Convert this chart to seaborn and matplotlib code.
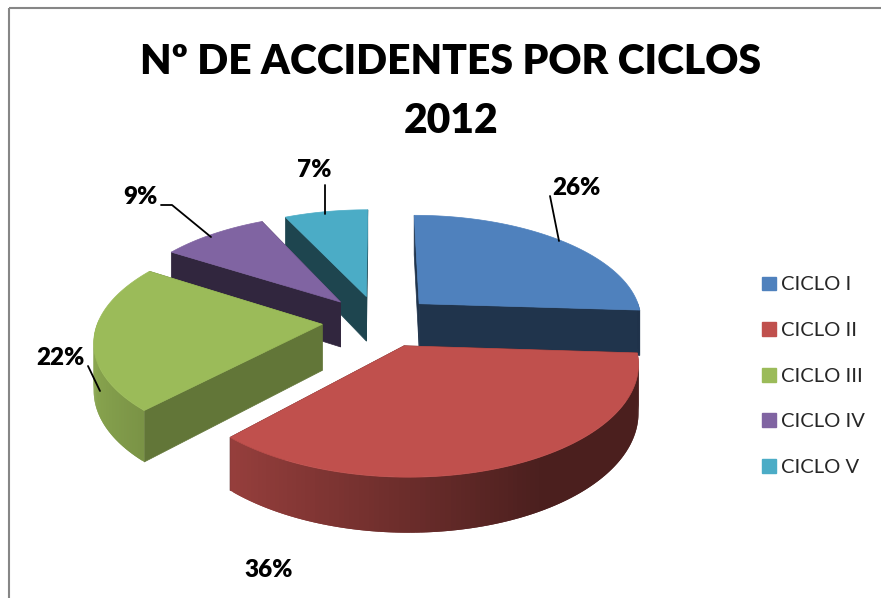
import numpy as np
import seaborn as sns
import matplotlib.pyplot as plt
from matplotlib.patches import Patch, Polygon, Rectangle

# Accidents per cycle, 2012
ciclos = ['CICLO I', 'CICLO II', 'CICLO III', 'CICLO IV', 'CICLO V']
porcentajes = [26, 36, 22, 9, 7]
colores = ['#4F81BD', '#C0504D', '#9BBB59', '#8064A2', '#4BACC6']
titulo = 'Nº DE ACCIDENTES POR CICLOS\n2012'

sns.set_theme(style='white')
plt.rcParams['font.family'] = ['Lato', 'DejaVu Sans']
paleta = sns.color_palette(colores)

# look of the 3D pie, in pixels of the picture
cx, cy = 378, 321
radio = 224
inclina = 0.47
persp = 0.14
alto = 46
explota = 55
lados = [0.40, 0.40, 0.63, 0.38, 0.40]
ajuste_x = [2, 5, -1, -2, 0]


def proyecta(u, v, z=0):
    s = 1 / (1 - persp * v / radio)
    return cx + u * s, cy + inclina * v * s + z * s


def oscurece(color, f):
    return tuple(c * f for c in color)


fig = plt.figure(figsize=(8.81, 5.98), dpi=100)
ax = fig.add_axes([0, 0, 1, 1])
ax.set_xlim(0, 881)
ax.set_ylim(598, 0)
ax.axis('off')
# chart frame, cut by the right and bottom edges of the picture
ax.add_patch(Rectangle((8.5, 7.5), 900, 620, fill=False, ec='#868686', lw=1.5))

cortes = np.cumsum([0] + porcentajes) / sum(porcentajes) * 2 * np.pi

# painted from the back of the pie to the front
for i in [4, 3, 0, 2, 1]:
    a0, a1 = cortes[i], cortes[i + 1]
    medio = (a0 + a1) / 2
    u0, v0 = explota * np.sin(medio) + ajuste_x[i], -explota * np.cos(medio)
    th = np.linspace(a0, a1, 120)
    us = u0 + radio * np.sin(th)
    vs = v0 - radio * np.cos(th)
    color = paleta[i]
    plano = oscurece(color, lados[i])

    # straight cut walls
    for a in (a0, a1):
        ue, ve = u0 + radio * np.sin(a), v0 - radio * np.cos(a)
        pts = [proyecta(u0, v0), proyecta(ue, ve), proyecta(ue, ve, alto), proyecta(u0, v0, alto)]
        ax.add_patch(Polygon(pts, fc=plano, ec=plano, lw=0.5, zorder=2))

    # curved wall, shaded along the arc; each piece overlaps the next to hide seams
    for j in range(len(th) - 2):
        if np.cos(th[j]) > 0.02:
            continue
        f = np.clip(0.56 - 0.33 * np.sin(th[j]), 0.39, 0.9)
        tono = oscurece(color, f)
        pts = [proyecta(us[j], vs[j]), proyecta(us[j + 2], vs[j + 2]),
               proyecta(us[j + 2], vs[j + 2], alto), proyecta(us[j], vs[j], alto)]
        ax.add_patch(Polygon(pts, fc=tono, ec='none', zorder=2))

    # top face
    xs, ys = proyecta(us, vs)
    xt, yt = proyecta(u0, v0)
    ax.add_patch(Polygon(np.column_stack([np.r_[xt, xs], np.r_[yt, ys]]), fc=color, ec=color, lw=0.5, zorder=2))

# percentage labels with their leader lines
etiquetas = {0: (576, 188), 1: (269, 570), 2: (60, 358), 3: (140, 197), 4: (314, 170)}
for i, (x, y) in etiquetas.items():
    ax.text(x, y, f'{porcentajes[i]}%', fontsize=17.5, fontweight='heavy', color='black',
            ha='center', va='center', zorder=5)

lineas = {0: [(550, 196), (559, 241)], 2: [(88, 366), (100, 391)],
          3: [(161, 205), (172, 205), (211, 237)], 4: [(325, 185), (325, 214)]}
for pts in lineas.values():
    ax.plot(*zip(*pts), color='black', lw=1.3, zorder=4)

ax.text(451, 91.5, titulo, fontsize=29.3, fontweight='heavy', color='black', ha='center', va='center',
        linespacing=1.68, zorder=5)

marcas = [Patch(fc=c, ec=c) for c in paleta]
ax.legend(marcas, ciclos, loc='upper left', bbox_to_anchor=(762 / 881, 1 - 276.5 / 598), frameon=False,
          fontsize=14.5, handlelength=0.68, handleheight=0.68, handletextpad=0.27, labelspacing=1.42,
          borderpad=0, borderaxespad=0)

plt.savefig('out.png', dpi=100)
